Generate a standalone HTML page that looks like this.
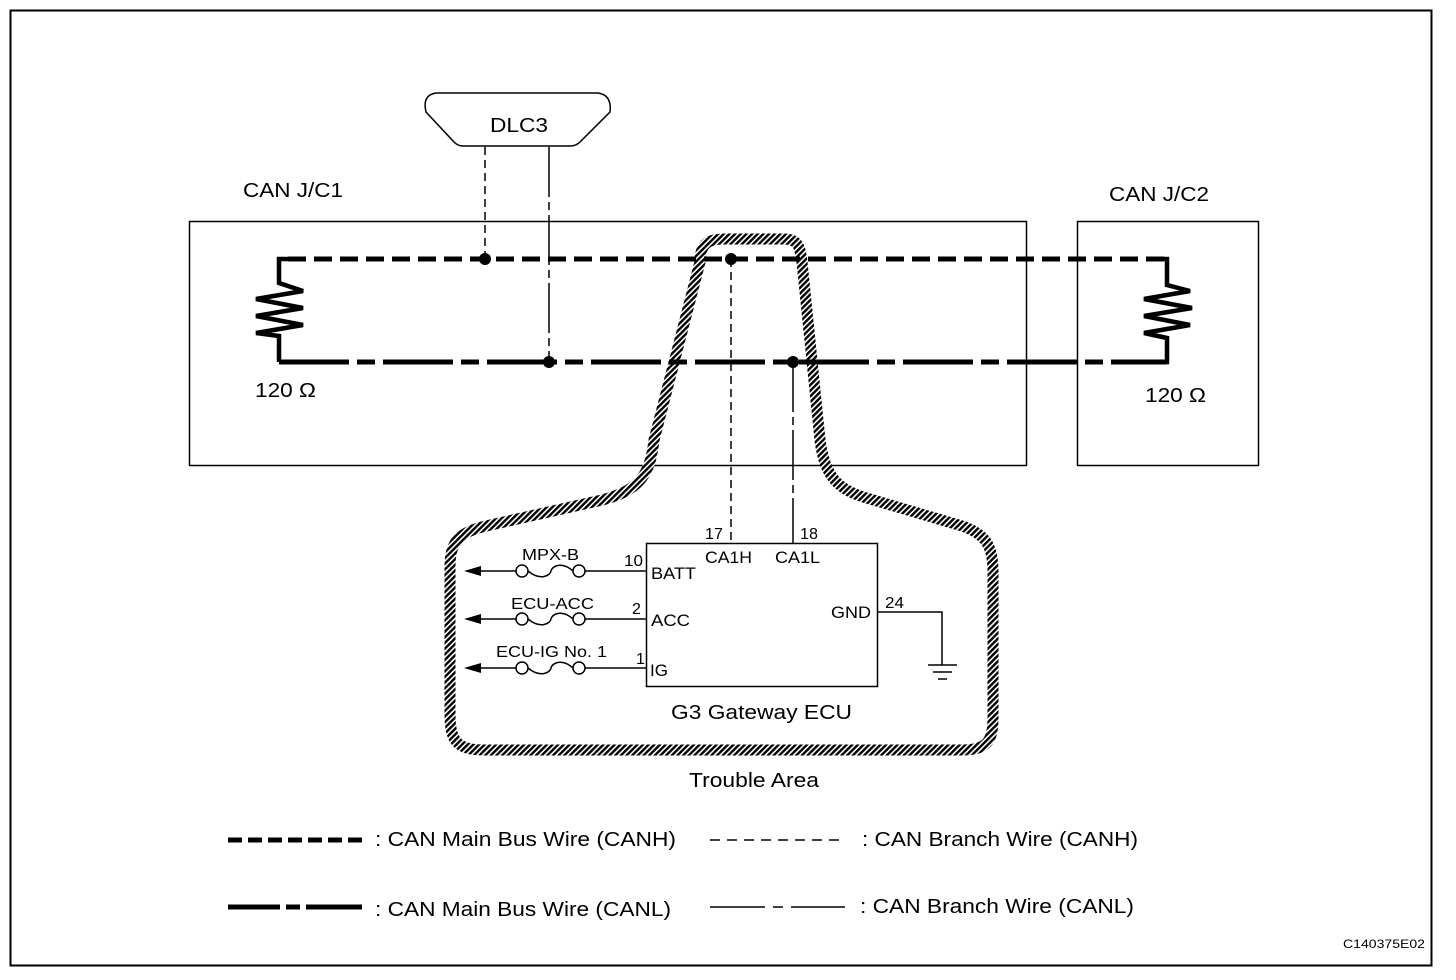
<!DOCTYPE html>
<html><head><meta charset="utf-8"><style>
html,body{margin:0;padding:0;background:#fff;}
svg{display:block;}
text{font-family:"Liberation Sans",Arial,sans-serif;fill:#000;}
</style></head><body>
<svg width="1456" height="980" viewBox="0 0 1456 980" xmlns="http://www.w3.org/2000/svg">
<defs>
<pattern id="hatch" width="4" height="4" patternUnits="userSpaceOnUse" patternTransform="rotate(45)">
<rect width="4" height="4" fill="#fff"/><rect width="2.4" height="4" fill="#000"/>
</pattern>
</defs>
<rect x="10.5" y="10.5" width="1421" height="955" fill="none" stroke="#000" stroke-width="2"/>

<rect x="189.5" y="221.5" width="837" height="244" fill="none" stroke="#000" stroke-width="1.5"/>
<rect x="1077.5" y="221.5" width="181" height="244" fill="none" stroke="#000" stroke-width="1.5"/>
<text x="243" y="197" font-size="20" textLength="100" lengthAdjust="spacingAndGlyphs">CAN J/C1</text>
<text x="1109" y="201" font-size="20" textLength="100" lengthAdjust="spacingAndGlyphs">CAN J/C2</text>
<text x="255" y="397" font-size="20" textLength="61" lengthAdjust="spacingAndGlyphs">120 Ω</text>
<text x="1145" y="402" font-size="20" textLength="61" lengthAdjust="spacingAndGlyphs">120 Ω</text>

<path d="M436,93 L598,93 Q612,95 610,112 L580,142 Q576,146 570,146 L463,146 Q458,146 454,142 L426,112 Q422,95 436,93 Z" fill="#fff" stroke="#000" stroke-width="1.5"/>
<text x="490" y="132" font-size="20" textLength="58" lengthAdjust="spacingAndGlyphs">DLC3</text>

<path d="M700,262 C700,242 710,239 725,239 L784,239 C798,239 800,246 802,262 L820,440 C825,478 838,490 870,499 L962,526 C986,534 993,546 993,572 L993,718 C993,744 985,750 960,750 L484,750 C456,750 450,740 450,714 L450,566 C450,541 460,532 486,526 L602,500 C640,490 650,475 654,440 Z" fill="none" stroke="url(#hatch)" stroke-width="11"/>

<line x1="485" y1="147" x2="485" y2="259" stroke="#000" stroke-width="1.5" stroke-dasharray="8,5"/>
<line x1="549" y1="147" x2="549" y2="362" stroke="#000" stroke-width="1.5" stroke-dasharray="50,5,8,5"/>
<line x1="731" y1="259" x2="731" y2="543" stroke="#000" stroke-width="1.5" stroke-dasharray="8,5"/>
<line x1="793" y1="362" x2="793" y2="543" stroke="#000" stroke-width="1.5" stroke-dasharray="50,5,8,5"/>

<line x1="288" y1="259" x2="1167" y2="259" stroke="#000" stroke-width="5" stroke-dasharray="18,8"/>
<line x1="279" y1="362" x2="1167" y2="362" stroke="#000" stroke-width="5" stroke-dasharray="70,8,18,8"/>
<polyline points="288,259 279,259 279,283 303,291 256,299 303,308 256,316 303,325 256,333 279,336 279,362" fill="none" stroke="#000" stroke-width="4.5"/>
<polyline points="1160,259 1167,259 1167,285 1190,291 1144,299 1192,308 1144,316 1190,325 1144,333 1167,338 1167,362 1150,362" fill="none" stroke="#000" stroke-width="4.5"/>
<circle cx="485" cy="259" r="6"/><circle cx="549" cy="362" r="6"/>
<circle cx="731" cy="259" r="6"/><circle cx="793" cy="362" r="6"/>

<rect x="646.5" y="543.5" width="231" height="143" fill="#fff" stroke="#000" stroke-width="1.5"/>
<text x="705" y="539" font-size="16" textLength="18" lengthAdjust="spacingAndGlyphs">17</text>
<text x="800" y="539" font-size="16" textLength="18" lengthAdjust="spacingAndGlyphs">18</text>
<text x="705" y="563" font-size="17" textLength="47" lengthAdjust="spacingAndGlyphs">CA1H</text>
<text x="775" y="563" font-size="17" textLength="45" lengthAdjust="spacingAndGlyphs">CA1L</text>
<text x="651" y="579" font-size="17" textLength="45" lengthAdjust="spacingAndGlyphs">BATT</text>
<text x="651" y="626" font-size="17" textLength="39" lengthAdjust="spacingAndGlyphs">ACC</text>
<text x="650" y="676" font-size="17" textLength="18" lengthAdjust="spacingAndGlyphs">IG</text>
<text x="831" y="618" font-size="17" textLength="40" lengthAdjust="spacingAndGlyphs">GND</text>
<text x="885" y="608" font-size="16" textLength="19" lengthAdjust="spacingAndGlyphs">24</text>
<text x="624" y="566" font-size="16" textLength="19" lengthAdjust="spacingAndGlyphs">10</text>
<text x="632" y="614" font-size="16">2</text>
<text x="636" y="664" font-size="16">1</text>
<text x="671" y="719" font-size="20" textLength="181" lengthAdjust="spacingAndGlyphs">G3  Gateway ECU</text>
<text x="689" y="787" font-size="20" textLength="130" lengthAdjust="spacingAndGlyphs">Trouble Area</text>

<polyline points="877,612 942,612 942,665" fill="none" stroke="#000" stroke-width="1.5"/>
<line x1="928" y1="665" x2="957" y2="665" stroke="#000" stroke-width="1.5"/>
<line x1="933" y1="672" x2="952" y2="672" stroke="#000" stroke-width="1.5"/>
<line x1="938" y1="679" x2="947" y2="679" stroke="#000" stroke-width="1.5"/>

<g stroke="#000" stroke-width="1.5" fill="none">
<line x1="472" y1="571" x2="516" y2="571"/><line x1="585" y1="571" x2="646" y2="571"/>
<circle cx="522" cy="571" r="6" fill="#fff"/><circle cx="579" cy="571" r="6" fill="#fff"/>
<path d="M528,571 C540,581 550,576 551,571 C552,566 562,561 573,571"/>
<line x1="472" y1="619" x2="516" y2="619"/><line x1="585" y1="619" x2="646" y2="619"/>
<circle cx="522" cy="619" r="6" fill="#fff"/><circle cx="579" cy="619" r="6" fill="#fff"/>
<path d="M528,619 C540,629 550,624 551,619 C552,614 562,609 573,619"/>
<line x1="472" y1="668" x2="516" y2="668"/><line x1="585" y1="668" x2="646" y2="668"/>
<circle cx="522" cy="668" r="6" fill="#fff"/><circle cx="579" cy="668" r="6" fill="#fff"/>
<path d="M528,668 C540,678 550,673 551,668 C552,663 562,658 573,668"/>
</g>
<polygon points="464,571 481,566 481,576"/><polygon points="464,619 481,614 481,624"/><polygon points="464,668 481,663 481,673"/>
<text x="522" y="560" font-size="16" textLength="57" lengthAdjust="spacingAndGlyphs">MPX-B</text>
<text x="511" y="609" font-size="16" textLength="83" lengthAdjust="spacingAndGlyphs">ECU-ACC</text>
<text x="496" y="657" font-size="16" textLength="111" lengthAdjust="spacingAndGlyphs">ECU-IG No. 1</text>

<line x1="228" y1="840" x2="362" y2="840" stroke="#000" stroke-width="5" stroke-dasharray="14,6"/>
<text x="375" y="846" font-size="20" textLength="301" lengthAdjust="spacingAndGlyphs">: CAN Main Bus Wire (CANH)</text>
<line x1="710" y1="840" x2="845" y2="840" stroke="#000" stroke-width="1.5" stroke-dasharray="10,7"/>
<text x="862" y="846" font-size="20" textLength="276" lengthAdjust="spacingAndGlyphs">: CAN Branch Wire (CANH)</text>
<line x1="228" y1="907" x2="362" y2="907" stroke="#000" stroke-width="5" stroke-dasharray="52,6,14,6,56"/>
<text x="375" y="916" font-size="20" textLength="296" lengthAdjust="spacingAndGlyphs">: CAN Main Bus Wire (CANL)</text>
<line x1="710" y1="907" x2="845" y2="907" stroke="#000" stroke-width="1.5" stroke-dasharray="55,8,10,8,60"/>
<text x="860" y="913" font-size="20" textLength="274" lengthAdjust="spacingAndGlyphs">: CAN Branch Wire (CANL)</text>
<text x="1343" y="948" font-size="12" textLength="82" lengthAdjust="spacingAndGlyphs">C140375E02</text>
</svg>
</body></html>
